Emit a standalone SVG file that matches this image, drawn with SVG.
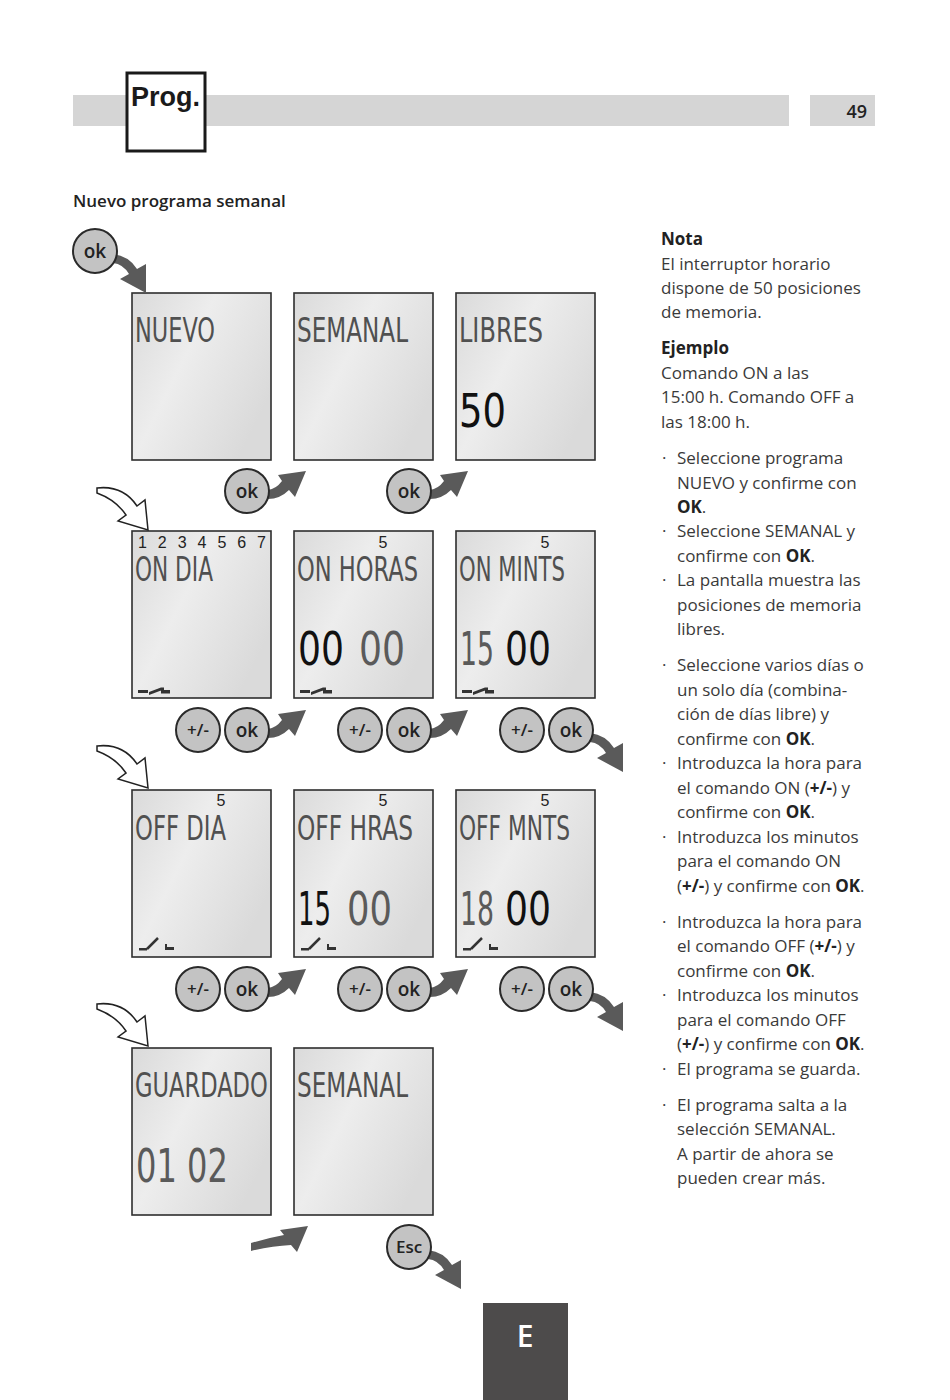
<svg xmlns="http://www.w3.org/2000/svg" xmlns:xlink="http://www.w3.org/1999/xlink" width="950" height="1400" viewBox="0 0 950 1400">
<defs>
<linearGradient id="lcd" x1="0" y1="0" x2="1" y2="0.6">
<stop offset="0" stop-color="#dadada"/>
<stop offset="0.45" stop-color="#ededed"/>
<stop offset="1" stop-color="#dadada"/>
</linearGradient>
<path id="arrUp" d="M0,-4 Q8,-5 14,-13 L10,-19 L38,-23 L27,3 L21,-4 Q12,5 0,5 Z"/>
<path id="arrDn" d="M0,-4 Q16,-2 24,11 L33,6 L33,35 L7,21 L16,16 Q10,6 0,5 Z"/>
<path id="arrW" d="M-51,-42 Q-25,-45 -11,-24 L-3,-30 L0,0 L-30,-9 L-22,-15 Q-32,-30 -51,-37 Z"/>
<path id="icoOn" d="M6,-8 h10 v3 h-10z M17,-6 L29,-10.5 v3 L17,-3z M29,-10.5 h3 v2.5 h6 v3.5 h-9z"/>
<g id="icoOff"><path d="M7,-9 h8 v2.5 h-8z M33,-13 h2 v3 h7 v3 h-9z"/><line x1="15" y1="-8" x2="26" y2="-19" stroke="#333" stroke-width="2.5"/></g>
</defs>
<style>
.bar{fill:#d5d5d5}
.scr{fill:url(#lcd);stroke:#2e2e2e;stroke-width:1.6}
.lcd{font-family:'Liberation Sans Narrow','DejaVu Sans Condensed',sans-serif;font-size:34px;fill:#505050}
.big{font-family:'Liberation Sans Narrow','DejaVu Sans Condensed',sans-serif;font-size:46px;fill:#5a5a5a}
.blk{fill:#111}
.num{font-family:'Liberation Sans',Arial,sans-serif;font-size:16px;fill:#222}
.btn{fill:#c3c3c3;stroke:#2a2a2a;stroke-width:2}
.bt{font-family:'Open Sans','Liberation Sans',sans-serif;font-size:19px;font-weight:600;fill:#222;text-anchor:middle}
.bs{font-size:17px}
.arr{fill:#5a5a5a}
.warr{fill:#fff;stroke:#222;stroke-width:1.5;stroke-linejoin:miter}
.ico{fill:#333}
.tx{font-family:'Open Sans','Liberation Sans',sans-serif;font-size:17px;fill:#3a3a3a}
.b{font-weight:700;fill:#222}
</style>
<rect width="950" height="1400" fill="#fff"/>

<g id="header">
<rect class="bar" x="73" y="95" width="716" height="31"/>
<rect class="bar" x="810" y="95" width="65" height="31"/>
<text x="867" y="118" text-anchor="end" font-family="'Open Sans','Liberation Sans',sans-serif" font-size="18" font-weight="600" fill="#222">49</text>
<rect x="127" y="73" width="78" height="78" fill="#fff" stroke="#1a1a1a" stroke-width="3"/>
<text x="131" y="106" font-family="'Liberation Sans',Arial,sans-serif" font-size="27" font-weight="700" fill="#1a1a1a">Prog.</text>
<text x="73" y="207" font-family="'Open Sans','Liberation Sans',sans-serif" font-size="17" font-weight="600" fill="#222">Nuevo programa semanal</text>
</g>

<g id="scr-nuevo"><rect class="scr" x="132" y="293" width="139" height="167"/><text class="lcd" x="135" y="342" textLength="80" lengthAdjust="spacingAndGlyphs">NUEVO</text></g>
<g id="scr-semanal1"><rect class="scr" x="294" y="293" width="139" height="167"/><text class="lcd" x="297" y="342" textLength="111" lengthAdjust="spacingAndGlyphs">SEMANAL</text></g>
<g id="scr-libres"><rect class="scr" x="456" y="293" width="139" height="167"/><text class="lcd" x="459" y="342" textLength="84" lengthAdjust="spacingAndGlyphs">LIBRES</text><text class="big blk" x="459" y="427" textLength="47" lengthAdjust="spacingAndGlyphs">50</text></g>

<g id="scr-ondia"><rect class="scr" x="132" y="531" width="139" height="167"/><text class="num" x="138" y="548" textLength="128">1 2 3 4 5 6 7</text><text class="lcd" x="135" y="581" textLength="78" lengthAdjust="spacingAndGlyphs">ON DIA</text><use href="#icoOn" class="ico" transform="translate(132,698)"/></g>
<g id="scr-onhoras"><rect class="scr" x="294" y="531" width="139" height="167"/><text class="num" x="383" y="548" text-anchor="middle">5</text><text class="lcd" x="297" y="581" textLength="121" lengthAdjust="spacingAndGlyphs">ON HORAS</text><text class="big blk" x="298" y="665" textLength="46" lengthAdjust="spacingAndGlyphs">00</text><text class="big" x="359" y="665" textLength="46" lengthAdjust="spacingAndGlyphs">00</text><use href="#icoOn" class="ico" transform="translate(294,698)"/></g>
<g id="scr-onmints"><rect class="scr" x="456" y="531" width="139" height="167"/><text class="num" x="545" y="548" text-anchor="middle">5</text><text class="lcd" x="459" y="581" textLength="106" lengthAdjust="spacingAndGlyphs">ON MINTS</text><text class="big" transform="translate(460,665) scale(0.65,1)" x="0" y="0" textLength="52.3" lengthAdjust="spacingAndGlyphs">15</text><text class="big blk" x="505" y="665" textLength="46" lengthAdjust="spacingAndGlyphs">00</text><use href="#icoOn" class="ico" transform="translate(456,698)"/></g>

<g id="scr-offdia"><rect class="scr" x="132" y="790" width="139" height="167"/><text class="num" x="221" y="806" text-anchor="middle">5</text><text class="lcd" x="135" y="840" textLength="91" lengthAdjust="spacingAndGlyphs">OFF DIA</text><use href="#icoOff" class="ico" transform="translate(132,957)"/></g>
<g id="scr-offhras"><rect class="scr" x="294" y="790" width="139" height="167"/><text class="num" x="383" y="806" text-anchor="middle">5</text><text class="lcd" x="297" y="840" textLength="116" lengthAdjust="spacingAndGlyphs">OFF HRAS</text><text class="big blk" x="298" y="925" textLength="33" lengthAdjust="spacingAndGlyphs">15</text><text class="big" x="347" y="925" textLength="45" lengthAdjust="spacingAndGlyphs">00</text><use href="#icoOff" class="ico" transform="translate(294,957)"/></g>
<g id="scr-offmnts"><rect class="scr" x="456" y="790" width="139" height="167"/><text class="num" x="545" y="806" text-anchor="middle">5</text><text class="lcd" x="459" y="840" textLength="111" lengthAdjust="spacingAndGlyphs">OFF MNTS</text><text class="big" transform="translate(460,925) scale(0.65,1)" x="0" y="0" textLength="52.3" lengthAdjust="spacingAndGlyphs">18</text><text class="big blk" x="505" y="925" textLength="46" lengthAdjust="spacingAndGlyphs">00</text><use href="#icoOff" class="ico" transform="translate(456,957)"/></g>

<g id="scr-guardado"><rect class="scr" x="132" y="1048" width="139" height="167"/><text class="lcd" transform="translate(135,1097) scale(0.8,1)" x="0" y="0" textLength="166" lengthAdjust="spacingAndGlyphs">GUARDADO</text><text class="big" x="136" y="1182" textLength="92" lengthAdjust="spacingAndGlyphs">01 02</text></g>
<g id="scr-semanal2"><rect class="scr" x="294" y="1048" width="139" height="167"/><text class="lcd" x="297" y="1097" textLength="111" lengthAdjust="spacingAndGlyphs">SEMANAL</text></g>

<g id="connectors">
<use href="#arrDn" class="arr" transform="translate(113,258)"/>
<use href="#arrUp" class="arr" transform="translate(268,494)"/>
<use href="#arrUp" class="arr" transform="translate(430,494)"/>
<use href="#arrUp" class="arr" transform="translate(268,733)"/>
<use href="#arrUp" class="arr" transform="translate(430,733)"/>
<use href="#arrDn" class="arr" transform="translate(590,737)"/>
<use href="#arrUp" class="arr" transform="translate(268,992)"/>
<use href="#arrUp" class="arr" transform="translate(430,992)"/>
<use href="#arrDn" class="arr" transform="translate(590,996)"/>
<use href="#arrDn" class="arr" transform="translate(428,1254)"/>
<path class="arr" d="M251,1243 Q268,1238 284,1235 L280,1230 L308,1226 L297,1252 L291,1245 Q272,1246 251,1251 Z"/>
<use href="#arrW" class="warr" transform="translate(148,530)"/>
<use href="#arrW" class="warr" transform="translate(148,788)"/>
<use href="#arrW" class="warr" transform="translate(148,1046)"/>
</g>

<g id="btn-ok0"><circle class="btn" cx="95" cy="251" r="22"/><text class="bt" x="95" y="258">ok</text></g>
<g id="btn-ok1"><circle class="btn" cx="247" cy="491" r="22"/><text class="bt" x="247" y="498">ok</text></g>
<g id="btn-ok2"><circle class="btn" cx="409" cy="491" r="22"/><text class="bt" x="409" y="498">ok</text></g>
<g id="btn-pm3"><circle class="btn" cx="198" cy="730" r="22"/><text class="bt bs" x="198" y="736">+/-</text></g>
<g id="btn-ok3"><circle class="btn" cx="247" cy="730" r="22"/><text class="bt" x="247" y="737">ok</text></g>
<g id="btn-pm4"><circle class="btn" cx="360" cy="730" r="22"/><text class="bt bs" x="360" y="736">+/-</text></g>
<g id="btn-ok4"><circle class="btn" cx="409" cy="730" r="22"/><text class="bt" x="409" y="737">ok</text></g>
<g id="btn-pm5"><circle class="btn" cx="522" cy="730" r="22"/><text class="bt bs" x="522" y="736">+/-</text></g>
<g id="btn-ok5"><circle class="btn" cx="571" cy="730" r="22"/><text class="bt" x="571" y="737">ok</text></g>
<g id="btn-pm6"><circle class="btn" cx="198" cy="989" r="22"/><text class="bt bs" x="198" y="995">+/-</text></g>
<g id="btn-ok6"><circle class="btn" cx="247" cy="989" r="22"/><text class="bt" x="247" y="996">ok</text></g>
<g id="btn-pm7"><circle class="btn" cx="360" cy="989" r="22"/><text class="bt bs" x="360" y="995">+/-</text></g>
<g id="btn-ok7"><circle class="btn" cx="409" cy="989" r="22"/><text class="bt" x="409" y="996">ok</text></g>
<g id="btn-pm8"><circle class="btn" cx="522" cy="989" r="22"/><text class="bt bs" x="522" y="995">+/-</text></g>
<g id="btn-ok8"><circle class="btn" cx="571" cy="989" r="22"/><text class="bt" x="571" y="996">ok</text></g>
<g id="btn-esc"><circle class="btn" cx="409" cy="1247" r="22"/><text class="bt bs" x="409" y="1253">Esc</text></g>

<g id="notes" class="tx">
<text class="tx b" x="661" y="245">Nota</text>
<text class="tx" x="661" y="270">El interruptor horario</text>
<text class="tx" x="661" y="294">dispone de 50 posiciones</text>
<text class="tx" x="661" y="318">de memoria.</text>
<text class="tx b" x="661" y="354">Ejemplo</text>
<text class="tx" x="661" y="379">Comando ON a las</text>
<text class="tx" x="661" y="403">15:00 h. Comando OFF a</text>
<text class="tx" x="661" y="428">las 18:00 h.</text>

<text class="tx" x="662" y="464">·</text><text class="tx" x="677" y="464">Seleccione programa</text>
<text class="tx" x="677" y="489">NUEVO y confirme con</text>
<text class="tx" x="677" y="513"><tspan class="b">OK</tspan>.</text>
<text class="tx" x="662" y="537">·</text><text class="tx" x="677" y="537">Seleccione SEMANAL y</text>
<text class="tx" x="677" y="562">confirme con <tspan class="b">OK</tspan>.</text>
<text class="tx" x="662" y="586">·</text><text class="tx" x="677" y="586">La pantalla muestra las</text>
<text class="tx" x="677" y="611">posiciones de memoria</text>
<text class="tx" x="677" y="635">libres.</text>

<text class="tx" x="662" y="671">·</text><text class="tx" x="677" y="671">Seleccione varios días o</text>
<text class="tx" x="677" y="696">un solo día (combina-</text>
<text class="tx" x="677" y="720">ción de días libre) y</text>
<text class="tx" x="677" y="745">confirme con <tspan class="b">OK</tspan>.</text>
<text class="tx" x="662" y="769">·</text><text class="tx" x="677" y="769">Introduzca la hora para</text>
<text class="tx" x="677" y="794">el comando ON (<tspan class="b">+/-</tspan>) y</text>
<text class="tx" x="677" y="818">confirme con <tspan class="b">OK</tspan>.</text>
<text class="tx" x="662" y="843">·</text><text class="tx" x="677" y="843">Introduzca los minutos</text>
<text class="tx" x="677" y="867">para el comando ON</text>
<text class="tx" x="677" y="892">(<tspan class="b">+/-</tspan>) y confirme con <tspan class="b">OK</tspan>.</text>

<text class="tx" x="662" y="928">·</text><text class="tx" x="677" y="928">Introduzca la hora para</text>
<text class="tx" x="677" y="952">el comando OFF (<tspan class="b">+/-</tspan>) y</text>
<text class="tx" x="677" y="977">confirme con <tspan class="b">OK</tspan>.</text>
<text class="tx" x="662" y="1001">·</text><text class="tx" x="677" y="1001">Introduzca los minutos</text>
<text class="tx" x="677" y="1026">para el comando OFF</text>
<text class="tx" x="677" y="1050">(<tspan class="b">+/-</tspan>) y confirme con <tspan class="b">OK</tspan>.</text>
<text class="tx" x="662" y="1075">·</text><text class="tx" x="677" y="1075">El programa se guarda.</text>

<text class="tx" x="662" y="1111">·</text><text class="tx" x="677" y="1111">El programa salta a la</text>
<text class="tx" x="677" y="1135">selección SEMANAL.</text>
<text class="tx" x="677" y="1160">A partir de ahora se</text>
<text class="tx" x="677" y="1184">pueden crear más.</text>
</g>

<g id="tab-e">
<rect x="483" y="1303" width="85" height="97" fill="#4d4b4b"/>
<text x="525" y="1347" text-anchor="middle" font-family="'Open Sans','Liberation Sans',sans-serif" font-size="30" font-weight="600" fill="#fff">E</text>
</g>
</svg>
